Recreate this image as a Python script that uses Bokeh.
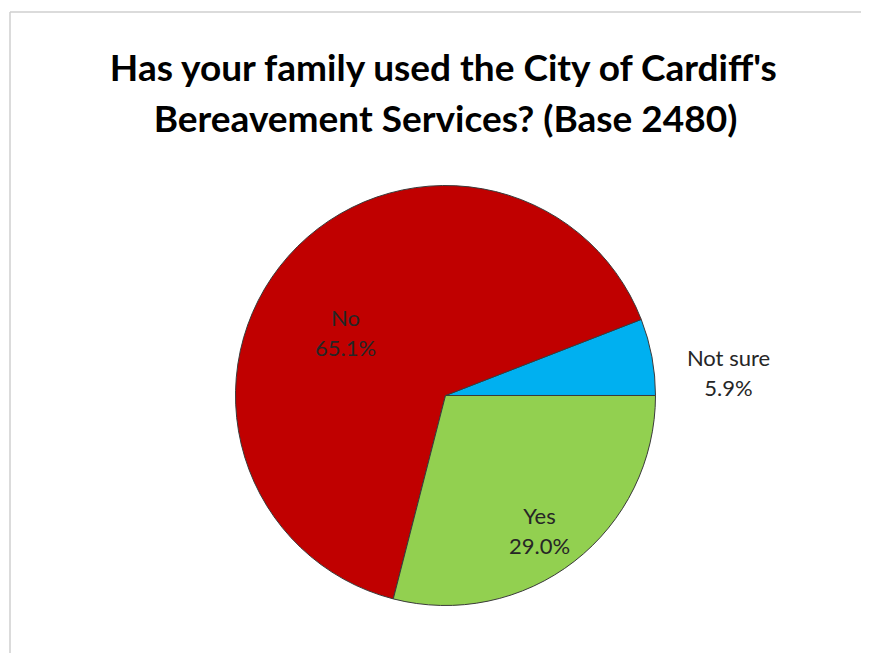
import math
from bokeh.plotting import figure
from bokeh.models import Range1d, ColumnDataSource
from bokeh.core.properties import value
from bokeh.embed import file_html
from bokeh.resources import INLINE

# ---- data ----
categories = ["Not sure", "No", "Yes"]
percentages = [5.9, 65.1, 29.0]
colors = ["#00B0F0", "#C00000", "#92D050"]
title_lines = ["Has your family used the City of Cardiff's",
               "Bereavement Services? (Base 2480)"]

# ---- layout (pixels inside the figure, y measured from top) ----
W, H = 861, 653
CX, CY, R = 445, 395, 210
label_pos = {"Not sure": (728, 357), "No": (345, 317), "Yes": (539, 515)}
LINE_GAP = 30


def fy(y_top):
    return H - y_top


p = figure(width=W, height=H, output_backend="svg", toolbar_location=None,
           x_range=Range1d(0, W), y_range=Range1d(0, H),
           min_border=0, min_border_left=0, min_border_right=0,
           min_border_top=0, min_border_bottom=0)
p.axis.visible = False
p.grid.visible = False
p.outline_line_color = None
p.background_fill_color = "white"
p.border_fill_color = "white"

# chart-area frame (top and left edges only; right/bottom run off the page)
p.segment(x0=[9.5, 9.5], y0=[fy(11.5), fy(11.5)],
          x1=[W + 50, 9.5], y1=[fy(11.5), -50],
          line_color="#CFCFCF", line_width=1.5)

# wedges
total = sum(percentages)
starts, ends = [], []
acc = 0.0
for v in percentages:
    starts.append(2 * math.pi * acc / total)
    acc += v
    ends.append(2 * math.pi * acc / total)

src = ColumnDataSource(dict(cat=categories, val=percentages, color=colors,
                            start=starts, end=ends,
                            x=[CX] * 3, y=[fy(CY)] * 3))
p.wedge(x="x", y="y", radius=R, start_angle="start", end_angle="end",
        fill_color="color", line_color="#3A3A3A", line_width=1, source=src)

# labels
for c, v in zip(categories, percentages):
    lx, ly = label_pos[c]
    p.text(x=[lx], y=[fy(ly)], text=[c], text_align="center",
           text_baseline="alphabetic", text_font=value("Lato"),
           text_font_size="22px", text_color="#262626")
    p.text(x=[lx], y=[fy(ly + LINE_GAP)], text=[f"{v:.1f}%"],
           text_align="center", text_baseline="alphabetic",
           text_font=value("Lato"), text_font_size="22px",
           text_color="#262626")

# title
for i, t in enumerate(title_lines):
    p.text(x=[445], y=[fy(66 + i * 51)], text=[t], text_align="center",
           text_baseline="alphabetic", text_font=value("Lato"),
           text_font_style="bold", text_font_size="37px", text_color="black")

open("out.html", "w").write(file_html(p, INLINE))
